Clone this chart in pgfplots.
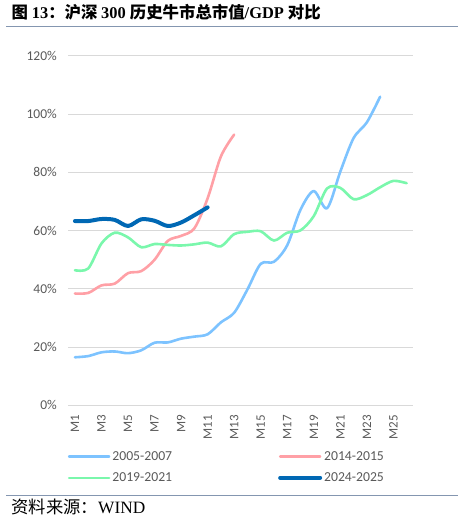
\documentclass[border=0pt]{standalone}
\usepackage{fontspec}
\setmainfont{Carlito}
\newfontfamily\cjk{Noto Sans CJK SC}
\newfontfamily\tnr{Liberation Serif}
\usepackage{pgfplots}
\pgfplotsset{compat=1.18}

\definecolor{bull05}{RGB}{125,195,255}
\definecolor{bull14}{RGB}{255,160,166}
\definecolor{bull19}{RGB}{122,247,172}
\definecolor{bull24}{RGB}{0,104,180}
\definecolor{tickgray}{RGB}{89,89,89}
\definecolor{rulecol}{RGB}{132,150,176}

\begin{document}
\begin{tikzpicture}
\useasboundingbox (0pt,0pt) rectangle (458pt,-521pt);

% title and source
\node[anchor=base west, inner sep=0pt] at (11.5pt,-19pt)
  {\fontsize{16.4}{18}\selectfont\bfseries\cjk 图 \tnr\bfseries 13\cjk\bfseries ：沪深 \tnr\bfseries 300 \cjk\bfseries 历史牛市总市值\tnr\bfseries /GDP \cjk\bfseries 对比};
\draw[rulecol, line width=1pt] (6pt,-27pt) -- (458pt,-27pt);
\draw[rulecol, line width=1pt] (6pt,-495pt) -- (458pt,-495pt);
\node[anchor=base west, inner sep=0pt] at (11.5pt,-513pt)
  {\fontsize{17.3}{18}\selectfont\cjk 资料来源：\tnr WIND};

\begin{axis}[
    at={(68.3pt,-405.3pt)}, anchor=south west,
    scale only axis, width=345pt, height=349.3pt,
    xmin=0.5, xmax=26.5, ymin=0, ymax=120,
    axis line style={draw=none},
    major tick length=0pt,
    ymajorgrids, grid style={black!15, line width=1pt},
    ytick={0,20,40,60,80,100,120},
    yticklabels={0\%,20\%,40\%,60\%,80\%,100\%,120\%},
    yticklabel shift=8pt,
    y tick label style={font=\fontsize{13.5}{15}\selectfont, text=tickgray},
    xtick={1,3,...,25},
    xticklabels={M1,M3,M5,M7,M9,M11,M13,M15,M17,M19,M21,M23,M25},
    xticklabel shift=6pt,
    x tick label style={rotate=90, anchor=east, font=\fontsize{13}{15}\selectfont, text=tickgray},
    legend columns=2,
    legend style={at={(-0.002,-0.177)}, anchor=west, draw=none, fill=none,
        inner sep=0pt, row sep=7pt,
        font=\fontsize{13.7}{15}\selectfont, text=tickgray,
        /tikz/every even column/.append style={column sep=104pt}},
    legend image code/.code={\draw[#1] (0pt,0pt) -- (40pt,0pt);},
    every axis plot/.append style={smooth, line cap=round, line join=round},
]
\addplot[bull05, line width=2.6pt] coordinates {
 (1,16.5) (2,16.9) (3,18.2) (4,18.5) (5,17.9) (6,18.9) (7,21.5) (8,21.6)
 (9,22.9) (10,23.6) (11,24.4) (12,28.5) (13,31.8) (14,39.8) (15,48.6) (16,49.3)
 (17,55.0) (18,67.2) (19,73.6) (20,67.7) (21,80.3) (22,91.8) (23,97.2) (24,106.0)
};
\addplot[bull14, line width=2.6pt] coordinates {
 (1,38.4) (2,38.6) (3,41.2) (4,41.8) (5,45.4) (6,46.1) (7,50.0) (8,56.5)
 (9,58.2) (10,60.8) (11,71.1) (12,85.5) (13,93.0)
};
\addplot[bull19, line width=2.6pt] coordinates {
 (1,46.4) (2,47.0) (3,55.6) (4,59.3) (5,57.7) (6,54.3) (7,55.4) (8,55.1)
 (9,54.9) (10,55.3) (11,55.9) (12,54.6) (13,58.8) (14,59.6) (15,59.8) (16,56.6)
 (17,59.3) (18,60.1) (19,65.0) (20,74.5) (21,74.7) (22,70.8) (23,72.2) (24,74.9)
 (25,77.1) (26,76.3)
};
\addplot[bull24, line width=4pt] coordinates {
 (1,63.3) (2,63.3) (3,64.0) (4,63.7) (5,61.6) (6,63.9) (7,63.4) (8,61.6)
 (9,62.8) (10,65.3) (11,68.0)
};
\legend{2005-2007, 2014-2015, 2019-2021, 2024-2025}
\end{axis}
\end{tikzpicture}
\end{document}
